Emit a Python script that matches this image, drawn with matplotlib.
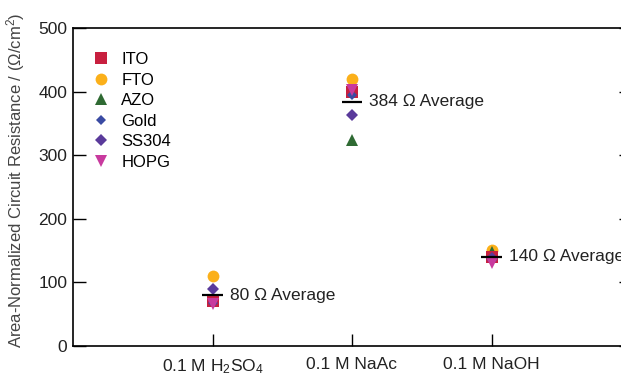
import matplotlib
matplotlib.use("Agg")
import matplotlib.pyplot as plt

plt.rcParams['font.family'] = ['Liberation Sans', 'DejaVu Sans']
plt.rcParams['mathtext.fontset'] = 'custom'
plt.rcParams['mathtext.rm'] = 'Liberation Sans'
plt.rcParams['mathtext.it'] = 'Liberation Sans'

categories = ["0.1 M H$_2$SO$_4$", "0.1 M NaAc", "0.1 M NaOH"]
materials = ["ITO", "FTO", "AZO", "Gold", "SS304", "HOPG"]
ITO = [71, 399, 140]
FTO = [110, 420, 151]
AZO = [70, 324, 148]
Gold = [68, 395, 135]
SS304 = [90, 363, 138]
HOPG = [66, 402, 130]
averages = [80, 384, 140]
avg_labels = ["80 Ω Average", "384 Ω Average", "140 Ω Average"]

series = {"ITO": ITO, "FTO": FTO, "AZO": AZO, "Gold": Gold, "SS304": SS304, "HOPG": HOPG}
styles = {
    "ITO": dict(marker='s', color='#C8203F', ms=8.5, z=3),
    "FTO": dict(marker='o', color='#FBB01A', ms=8.5, z=2),
    "AZO": dict(marker='^', color='#2F6A33', ms=8.5, z=2.5),
    "Gold": dict(marker='D', color='#3A4BA3', ms=5, z=3.2),
    "SS304": dict(marker='D', color='#5A3A9B', ms=6.5, z=3.3),
    "HOPG": dict(marker='v', color='#C83A9E', ms=8.5, z=3.4),
}

fig = plt.figure(figsize=(6.21, 3.76), dpi=100)
ax = fig.add_axes([73/621, 1-346/376, 558/621, 318/376])

x = [1, 2, 3]
for m in materials:
    st = styles[m]
    ax.plot(x, series[m], linestyle='none', marker=st['marker'], color=st['color'],
            markersize=st['ms'], markeredgewidth=0, zorder=st['z'], label=m)

for xi, a, lab in zip(x, averages, avg_labels):
    ax.hlines(a, xi - 0.075, xi + 0.075, color='black', lw=1.6, zorder=5)
    ax.text(xi + 0.125, a, lab, fontsize=12.5, va='center', ha='left', color='#222222')

ax.set_xlim(0, 4)
ax.set_ylim(0, 500)
ax.set_xticks(x)
ax.set_xticklabels(categories, fontsize=12)
ax.set_yticks([0, 100, 200, 300, 400, 500])
ax.tick_params(axis='both', direction='in', length=9, width=1, labelsize=12.5,
               colors='black', labelcolor='#222222')
ax.tick_params(axis='y', right=True, pad=4)
ax.tick_params(axis='x', pad=8)
for s in ax.spines.values():
    s.set_linewidth(1.2)
ax.set_ylabel("Area-Normalized Circuit Resistance / (Ω/cm$^2$)", fontsize=12,
              color='#444444')
ax.yaxis.set_label_coords(-0.082, 0.52)

ax.legend(loc='upper left', bbox_to_anchor=(0.018, 0.955), frameon=False, fontsize=12,
          handlelength=1.0, handletextpad=0.7, labelspacing=0.33, borderaxespad=0.2)

fig.savefig("out.png", dpi=100)
